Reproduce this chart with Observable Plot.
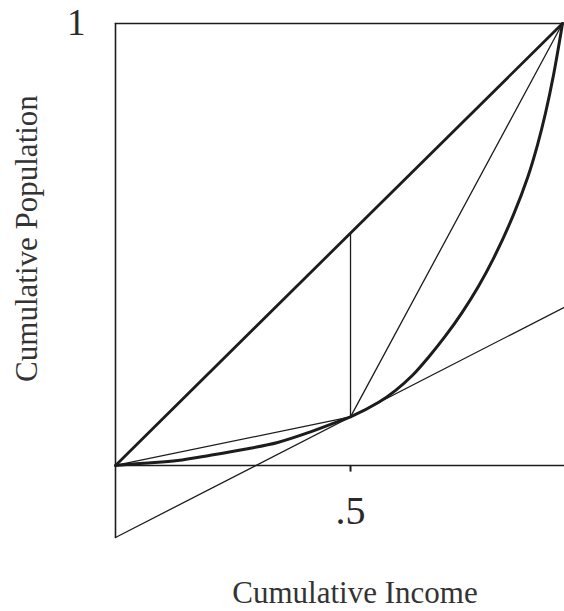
<!DOCTYPE html>
<html>
<head>
<meta charset="utf-8">
<script src="https://cdn.jsdelivr.net/npm/d3@7"></script>
<script src="https://cdn.jsdelivr.net/npm/@observablehq/plot@0.6"></script>
<style>
  html, body { margin: 0; padding: 0; background: #fff; }
  #chart svg { display: block; }
</style>
</head>
<body>
<div id="chart"></div>
<script>
// ---- data (x: cumulative income, y: cumulative population) ----
const xTicks = [0.5];
const xTickLabels = [".5"];
const yTicks = [1];
const yTickLabels = ["1"];
const xTitle = "Cumulative Income";
const yTitle = "Cumulative Population";

const apex = [0.951, 1];              // top-right meeting point of the lines
const origin = [0, 0];
const tangentPoint = [0.5, 0.11];     // where the tangent touches the curve

// thick Lorenz-type curve
const curveX = [0, 0.06, 0.132, 0.202, 0.272, 0.345, 0.415, 0.485, 0.5, 0.56, 0.596, 0.632, 0.666, 0.702, 0.738, 0.772, 0.804, 0.847, 0.877, 0.898, 0.915, 0.932, 0.951];
const curveY = [0, 0.005, 0.011, 0.023, 0.036, 0.052, 0.076, 0.104, 0.11, 0.143, 0.17, 0.204, 0.245, 0.293, 0.347, 0.405, 0.468, 0.568, 0.652, 0.726, 0.798, 0.884, 1];

// tangent line through tangentPoint
const tangentLine = [[0, -0.163], [0.955, 0.358]];
// vertical from tangent point up to the diagonal
const verticalLine = [[0.5, 0.11], [0.5, 0.526]];
// frame lines
const topLine = [[0, 1], [0.951, 1]];
const leftLine = [[0, 1], [0, -0.163]];
const baseLine = [[0, 0], [0.96, 0]];

const curve = curveX.map((x, i) => [x, curveY[i]]);
const diagonal = [origin, apex];
const chordLow = [origin, tangentPoint];
const chordHigh = [tangentPoint, apex];

const ink = "#1c1c1c";
const fx = d => d[0], fy = d => d[1];

const chart = Plot.plot({
  width: 564,
  height: 611,
  marginLeft: 115,
  marginRight: 2,
  marginTop: 23,
  marginBottom: 74,
  x: {domain: [0, 0.951], axis: null},
  y: {domain: [-0.163, 1], axis: null},
  style: {fontFamily: "'Liberation Serif', 'DejaVu Serif', serif", background: "#fff", overflow: "visible", color: "#2a2a2a"},
  marks: [
    Plot.line(topLine, {x: fx, y: fy, stroke: ink, strokeWidth: 1.6}),
    Plot.line(leftLine, {x: fx, y: fy, stroke: ink, strokeWidth: 1.6}),
    Plot.line(baseLine, {x: fx, y: fy, stroke: ink, strokeWidth: 1.6}),
    Plot.line(tangentLine, {x: fx, y: fy, stroke: ink, strokeWidth: 1.3}),
    Plot.line(verticalLine, {x: fx, y: fy, stroke: ink, strokeWidth: 1.3}),
    Plot.line(chordLow, {x: fx, y: fy, stroke: ink, strokeWidth: 1.3}),
    Plot.line(chordHigh, {x: fx, y: fy, stroke: ink, strokeWidth: 1.3}),
    Plot.line(diagonal, {x: fx, y: fy, stroke: ink, strokeWidth: 2.8}),
    Plot.line(curve, {x: fx, y: fy, stroke: ink, strokeWidth: 3, curve: "catmull-rom"}),
    // x tick and label
    Plot.ruleX(xTicks, {x: d => d, y1: 0, y2: -0.015, stroke: ink, strokeWidth: 2}),
    Plot.text(xTicks, {x: d => d, y: 0, text: (d, i) => xTickLabels[i], dy: 46, fontSize: 40, lineAnchor: "middle", fill: "#2a2a2a"}),
    // y tick label
    Plot.text(yTicks, {x: 0, y: d => d, text: (d, i) => yTickLabels[i], textAnchor: "end", dx: -30, fontSize: 37, lineAnchor: "middle", fill: "#2a2a2a"}),
    // axis titles
    Plot.text([xTitle], {frameAnchor: "bottom", text: d => d, textAnchor: "middle", dx: 16, dy: 56, fontSize: 31, lineAnchor: "middle", fill: "#333"}),
    Plot.text([yTitle], {frameAnchor: "left", text: d => d, textAnchor: "middle", rotate: -90, dx: -88, dy: -42, fontSize: 31, lineAnchor: "middle", fill: "#333"})
  ]
});
document.getElementById("chart").appendChild(chart);
</script>
</body>
</html>
